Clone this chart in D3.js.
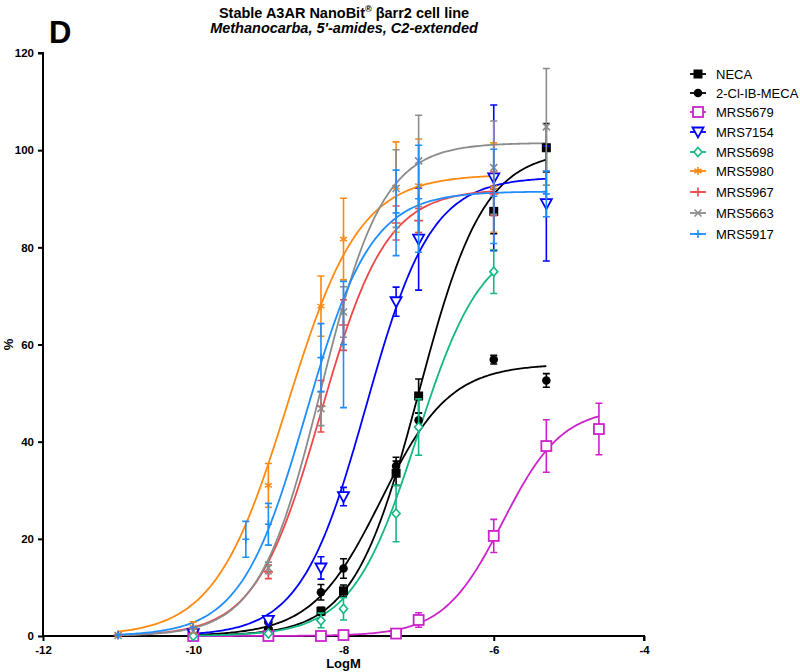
<!DOCTYPE html>
<html>
<head>
<meta charset="utf-8">
<script src="https://cdn.jsdelivr.net/npm/d3@7"></script>
<style>
  html, body { margin: 0; padding: 0; background: #fff; }
  svg { display: block; font-family: "Liberation Sans", Arial, sans-serif; }
</style>
</head>
<body>
<svg id="chart" width="800" height="672"></svg>
<script>
// ---------- DATA ----------
const seriesNames = ["NECA", "2-Cl-IB-MECA", "MRS5679", "MRS7154", "MRS5698", "MRS5980", "MRS5967", "MRS5663", "MRS5917"];
const seriesColors = ["#000000", "#000000", "#CC22CC", "#0000FF", "#13B884", "#FF8A10", "#F04848", "#8C8C8C", "#1E8EFF"];
const seriesMarkers = ["squareFilled", "circleFilled", "squareOpen", "triangleDown", "diamondOpen", "asterisk", "plus", "cross", "tick"];

const necaX = [-10, -9, -8.3, -8, -7.3, -7, -6, -5.3];
const necaY = [0.2, 0.9, 5.1, 9.3, 33.5, 49.4, 87.4, 100.5];
const necaErr = [0.3, 0.5, 0.8, 1.2, 2.5, 3.5, 4.6, 5.0];

const clibX = [-10, -9, -8.3, -8, -7.3, -7, -6, -5.3];
const clibY = [0.3, 2.9, 9.0, 13.9, 35.0, 44.4, 56.9, 52.6];
const clibErr = [0.3, 1.0, 1.6, 2.0, 1.8, 1.5, 0.9, 1.4];

const m5679X = [-10, -9, -8.3, -8, -7.3, -7, -6, -5.3, -4.6];
const m5679Y = [0, 0, 0, 0.2, 0.5, 3.3, 20.6, 39.1, 42.6];
const m5679Err = [0, 0, 0, 0.3, 0.4, 1.5, 3.4, 5.4, 5.3];

const m7154X = [-10, -9, -8.3, -8, -7.3, -7, -6, -5.3];
const m7154Y = [0.5, 3.2, 14.0, 28.7, 68.8, 81.7, 94.3, 89.0];
const m7154Err = [0.2, 0.8, 2.3, 1.9, 3.0, 10.5, 15.0, 11.8];

const m5698X = [-10, -9, -8.3, -8, -7.3, -7, -6];
const m5698Y = [0, 0.5, 3.2, 5.6, 25.2, 43.0, 75.0];
const m5698Err = [0.2, 0.3, 1.5, 2.3, 5.8, 5.8, 4.5];

const m5980X = [-11, -10, -9, -8.3, -8, -7.3, -7, -6];
const m5980Y = [0.3, 1.8, 31.0, 67.9, 81.7, 92.4, 92.7, 92.3];
const m5980Err = [0.2, 1.1, 4.5, 6.2, 8.4, 9.3, 9.6, 9.2];

const m5967X = [-11, -10, -9, -8.3, -8, -7.3, -7, -6];
const m5967Y = [0.2, 1.5, 13.2, 47.3, 64.0, 85.0, 85.5, 91.0];
const m5967Err = [0.1, 0.5, 1.4, 5.3, 5.2, 3.5, 2.5, 4.5];

const m5663X = [-11, -10, -9, -8.3, -8, -7.3, -7, -6, -5.3];
const m5663Y = [0.1, 1.0, 14.0, 46.8, 66.7, 92.1, 97.8, 96.4, 104.8];
const m5663Err = [0.1, 0.4, 1.2, 3.5, 5.2, 8.0, 9.4, 9.6, 12.0];

const m5917X = [-11, -10, -9.3, -9, -8.3, -8, -7.3, -7, -6, -5.3];
const m5917Y = [0.2, 1.8, 19.9, 23.0, 57.3, 60.0, 87.1, 90.0, 90.5, 91.0];
const m5917Err = [0.1, 0.5, 3.7, 4.3, 7.0, 13.0, 8.8, 11.0, 9.7, 4.7];

// fitted sigmoid parameters (bottom 0): top, logEC50, hill, curve range
const fitTop = [100, 56, 47, 94.5, 82, 95, 92, 101.5, 91.5];
const fitEC50 = [-7.0, -7.5, -5.88, -7.7, -7.02, -8.75, -8.3, -8.3, -8.5];
const fitHill = [1.0, 0.95, 1.1, 1.0, 1.0, 0.9, 1.0, 1.05, 1.0];
const fitStart = [-10, -10, -10, -10, -10, -11, -11, -11, -11];
const fitEnd = [-5.3, -5.3, -4.6, -5.3, -6, -6, -6, -5.3, -5.3];

const xTicks = [-12, -10, -8, -6, -4];
const yTicks = [0, 20, 40, 60, 80, 100, 120];

const titleLine1 = "Stable A3AR NanoBit";
const titleLine1b = "βarr2 cell line";
const titleLine2 = "Methanocarba, 5'-amides, C2-extended";
const panelLabel = "D";
const xLabel = "LogM";
const yLabel = "%";

// ---------- ASSEMBLE ----------
const allX = [necaX, clibX, m5679X, m7154X, m5698X, m5980X, m5967X, m5663X, m5917X];
const allY = [necaY, clibY, m5679Y, m7154Y, m5698Y, m5980Y, m5967Y, m5663Y, m5917Y];
const allE = [necaErr, clibErr, m5679Err, m7154Err, m5698Err, m5980Err, m5967Err, m5663Err, m5917Err];
const series = seriesNames.map((n, i) => ({
  name: n, color: seriesColors[i], marker: seriesMarkers[i],
  pts: allX[i].map((x, j) => ({ x, y: allY[i][j], e: allE[i][j] })),
  top: fitTop[i], ec50: fitEC50[i], hill: fitHill[i], x0: fitStart[i], x1: fitEnd[i]
}));

// ---------- DRAW ----------
const svg = d3.select("#chart");
const x = d3.scaleLinear().domain([-12, -4]).range([43, 644]);
const y = d3.scaleLinear().domain([0, 120]).range([636, 53]);

// titles
const t1 = svg.append("text").attr("x", 344).attr("y", 17.5).attr("text-anchor", "middle")
  .attr("font-size", 14.5).attr("font-weight", "bold").attr("fill", "#000");
t1.append("tspan").text(titleLine1);
t1.append("tspan").text("®").attr("font-size", 9).attr("dy", -6);
t1.append("tspan").text(" " + titleLine1b).attr("dy", 6);
svg.append("text").attr("x", 344).attr("y", 33).attr("text-anchor", "middle")
  .attr("font-size", 14.5).attr("font-weight", "bold").attr("font-style", "italic").text(titleLine2);
svg.append("text").attr("x", 49).attr("y", 43).attr("font-size", 31).attr("font-weight", "bold").text(panelLabel);

// axes
const xAxis = d3.axisBottom(x).tickValues(xTicks).tickSize(5).tickFormat(d3.format("d"));
const yAxis = d3.axisLeft(y).tickValues(yTicks).tickSize(5).tickFormat(d3.format("d"));
const gx = svg.append("g").attr("transform", "translate(0,636)").call(xAxis);
const gy = svg.append("g").attr("transform", "translate(43,0)").call(yAxis);
[gx, gy].forEach(g => {
  g.select(".domain").attr("stroke", "#000").attr("stroke-width", 2);
  g.selectAll(".tick line").attr("stroke", "#000").attr("stroke-width", 2);
  g.selectAll(".tick text").attr("font-size", 11.5).attr("font-weight", "bold").attr("fill", "#000")
    .attr("font-family", "Liberation Sans, Arial, sans-serif");
});
gx.selectAll(".tick text").attr("dy", "0.9em").text(d => d === 0 ? "0" : "-" + Math.abs(d));
gy.selectAll(".tick text").attr("dx", "-1px");
gx.select(".domain").attr("d", `M${x(-12)},0H${x(-4)}V5`);
gy.select(".domain").attr("d", `M-5,${y(120)}H0V${y(0)}`);

svg.append("text").attr("x", x(-8)).attr("y", 668).attr("text-anchor", "middle")
  .attr("font-size", 13).attr("font-weight", "bold").text(xLabel);
svg.append("text").attr("transform", `translate(13,${y(60)}) rotate(-90)`).attr("text-anchor", "middle")
  .attr("font-size", 13).attr("font-weight", "bold").text(yLabel);

// curves
const line = d3.line().x(d => x(d[0])).y(d => y(d[1]));
function sigmoid(s, lx) { return s.top / (1 + Math.pow(10, (s.ec50 - lx) * s.hill)); }

// marker drawing
function drawMarker(g, type, cx, cy, color) {
  const m = g.append("g").attr("transform", `translate(${cx},${cy})`);
  switch (type) {
    case "squareFilled":
      m.append("rect").attr("x", -4.5).attr("y", -4.5).attr("width", 9).attr("height", 9).attr("fill", color); break;
    case "circleFilled":
      m.append("circle").attr("r", 4.3).attr("fill", color); break;
    case "squareOpen":
      m.append("rect").attr("x", -5).attr("y", -5).attr("width", 10).attr("height", 10)
        .attr("fill", "#fff").attr("stroke", color).attr("stroke-width", 1.8); break;
    case "triangleDown":
      m.append("path").attr("d", "M-5.5,-4.5L5.5,-4.5L0,5.5Z").attr("fill", "#fff").attr("stroke", color).attr("stroke-width", 1.8); break;
    case "diamondOpen":
      m.append("path").attr("d", "M0,-4.5L4,0L0,4.5L-4,0Z").attr("fill", "#fff").attr("stroke", color).attr("stroke-width", 1.6); break;
    case "asterisk":
      m.append("path").attr("d", "M0,-4V4M-3.5,-2L3.5,2M-3.5,2L3.5,-2").attr("stroke", color).attr("stroke-width", 1.6); break;
    case "plus":
      m.append("path").attr("d", "M0,-4.5V4.5M-4.5,0H4.5").attr("stroke", color).attr("stroke-width", 1.6); break;
    case "cross":
      m.append("path").attr("d", "M-3.5,-3.5L3.5,3.5M-3.5,3.5L3.5,-3.5").attr("stroke", color).attr("stroke-width", 1.6); break;
    case "tick":
      m.append("path").attr("d", "M0,-4V4M-3.5,0H3.5").attr("stroke", color).attr("stroke-width", 1.6); break;
  }
}

const plot = svg.append("g");
// draw curves first
series.forEach(s => {
  const n = 200, pts = [];
  for (let k = 0; k <= n; k++) {
    const lx = s.x0 + (s.x1 - s.x0) * k / n;
    pts.push([lx, sigmoid(s, lx)]);
  }
  plot.append("path").attr("d", line(pts)).attr("fill", "none")
    .attr("stroke", s.color).attr("stroke-width", 1.8);
});
// error bars and markers
series.forEach(s => {
  const g = plot.append("g");
  s.pts.forEach(p => {
    if (p.e > 0.6) {
      const px = x(p.x), ya = y(p.y + p.e), yb = y(Math.max(0, p.y - p.e));
      g.append("path").attr("d", `M${px},${ya}V${yb}M${px - 3.5},${ya}H${px + 3.5}M${px - 3.5},${yb}H${px + 3.5}`)
        .attr("stroke", s.color).attr("stroke-width", 1.6).attr("fill", "none");
    }
    drawMarker(g, s.marker, x(p.x), y(p.y), s.color);
  });
});

// legend
const legendY = [74, 93, 112, 132, 152, 171, 192, 213, 234];
const lg = svg.append("g");
series.forEach((s, i) => {
  const yy = legendY[i];
  lg.append("line").attr("x1", 690).attr("x2", 706).attr("y1", yy).attr("y2", yy)
    .attr("stroke", s.color).attr("stroke-width", 1.8);
  drawMarker(lg, s.marker, 698, yy, s.color);
  lg.append("text").attr("x", 716).attr("y", yy).attr("dy", "0.35em")
    .attr("font-size", 13).attr("fill", "#000").text(s.name);
});
</script>
</body>
</html>
